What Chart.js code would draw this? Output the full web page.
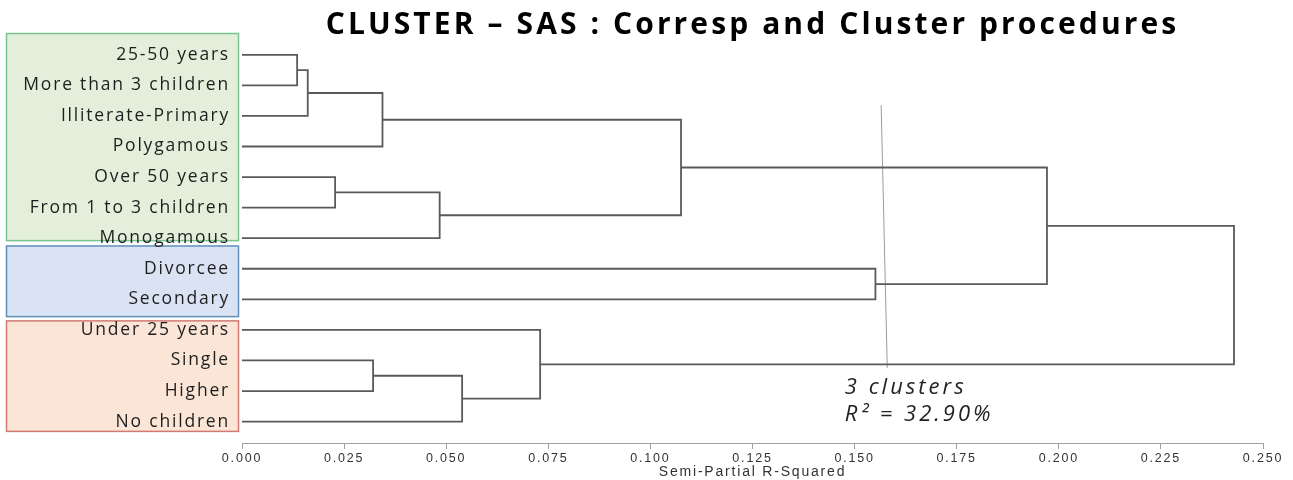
<!DOCTYPE html>
<html>
<head>
<meta charset="utf-8">
<script src="https://cdn.jsdelivr.net/npm/chart.js@4/dist/chart.umd.min.js"></script>
<style>
  html, body { margin: 0; padding: 0; background: #ffffff; }
  #wrap { width: 1293px; height: 480px; }
</style>
</head>
<body>
<div id="wrap"><canvas id="c" width="1293" height="480"></canvas></div>
<script>
// ---- data ----
const leaves = [
  '25-50 years', 'More than 3 children', 'Illiterate-Primary', 'Polygamous',
  'Over 50 years', 'From 1 to 3 children', 'Monogamous',
  'Divorcee', 'Secondary',
  'Under 25 years', 'Single', 'Higher', 'No children'
];
// merges (node ids: leaves 0..12, merge k creates node 13+k)
const mergeLeft   = [0, 13, 4, 10, 14, 15, 16, 9, 17, 7, 21, 23];
const mergeRight  = [1, 2, 5, 11, 3, 6, 12, 19, 18, 8, 22, 20];
const mergeHeight = [0.0135, 0.0161, 0.0228, 0.0321, 0.0344, 0.0484, 0.0539, 0.0730, 0.1075, 0.1551, 0.1971, 0.2429];
const xTickValues = [0, 0.025, 0.05, 0.075, 0.1, 0.125, 0.15, 0.175, 0.2, 0.225, 0.25];
const cutLineX = [0.1565, 0.1580];
const cutLineY = [1.65, 10.24];
const clusterGroups = ['green', 'blue', 'orange'];
const annotationLines = ['3 clusters', 'R\u00B2 = 32.90%'];

// ---- build dendrogram segments ----
const nodeY = leaves.map((_, i) => i);
const nodeH = leaves.map(() => 0);
const datasets = [];
mergeHeight.forEach((h, k) => {
  const a = mergeLeft[k], b = mergeRight[k];
  datasets.push({
    data: [
      { x: nodeH[a], y: nodeY[a] },
      { x: h, y: nodeY[a] },
      { x: h, y: nodeY[b] },
      { x: nodeH[b], y: nodeY[b] }
    ],
    showLine: true, pointRadius: 0, borderColor: '#5a5a5a', borderWidth: 1.8,
    tension: 0, fill: false
  });
  nodeY.push((nodeY[a] + nodeY[b]) / 2);
  nodeH.push(h);
});
datasets.push({
  data: cutLineX.map((x, i) => ({ x: x, y: cutLineY[i] })),
  showLine: true, pointRadius: 0, borderColor: '#9c9c9c', borderWidth: 1, fill: false
});

const boxStyles = {
  green:  { fill: '#e3efda', stroke: '#79c48f', span: [-0.696, 6.08] },
  blue:   { fill: '#dae3f3', stroke: '#5f8fb8', span: [6.255, 8.565] },
  orange: { fill: '#fbe5d6', stroke: '#d27a72', span: [8.705, 12.32] }
};

const decor = {
  id: 'decor',
  beforeDraw(chart) {
    const ctx = chart.ctx, y = chart.scales.y;
    ctx.save();
    ctx.fillStyle = '#ffffff';
    ctx.fillRect(0, 0, chart.width, chart.height);
    clusterGroups.forEach((g) => {
      const s = boxStyles[g];
      const top = y.getPixelForValue(s.span[0]);
      const bot = y.getPixelForValue(s.span[1]);
      const left = 6.5, right = chart.chartArea.left - 3.5;
      ctx.fillStyle = s.fill;
      ctx.fillRect(left, top, right - left, bot - top);
      ctx.strokeStyle = s.stroke;
      ctx.lineWidth = 1.5;
      ctx.strokeRect(left, top, right - left, bot - top);
    });
    ctx.restore();
    ctx.letterSpacing = '3.1px';
  },
  afterDatasetsDraw(chart) {
    chart.ctx.letterSpacing = '1.8px';
  },
  afterDraw(chart) {
    const ctx = chart.ctx, x = chart.scales.x, y = chart.scales.y;
    ctx.save();
    ctx.letterSpacing = '3px';
    ctx.font = 'italic 22px "Open Sans"';
    ctx.fillStyle = '#222222';
    ctx.textAlign = 'left';
    ctx.textBaseline = 'alphabetic';
    const px = x.getPixelForValue(0.1476);
    ctx.fillText(annotationLines[0], px, y.getPixelForValue(11.10));
    ctx.fillText(annotationLines[1], px, y.getPixelForValue(11.97));
    ctx.restore();
    ctx.letterSpacing = '0px';
  }
};

new Chart(document.getElementById('c'), {
  type: 'scatter',
  data: { datasets: datasets },
  options: {
    responsive: false,
    animation: false,
    devicePixelRatio: 1,
    layout: { padding: { left: 0, right: 30, top: 0, bottom: 0 } },
    plugins: {
      legend: { display: false },
      tooltip: { enabled: false },
      title: {
        display: true,
        fullSize: false,
        text: 'CLUSTER \u2013 SAS : Corresp and Cluster procedures',
        color: '#000000',
        font: { family: '"Open Sans"', weight: 'bold', size: 30, lineHeight: 1.2 },
        padding: { top: 7, bottom: 1 }
      }
    },
    scales: {
      x: {
        type: 'linear',
        min: 0, max: 0.25,
        afterBuildTicks(scale) { scale.ticks = xTickValues.map(v => ({ value: v })); },
        afterFit(scale) { scale.height = 37; },
        ticks: {
          z: 1,
          autoSkip: false, maxRotation: 0,
          padding: 2,
          color: '#333333',
          font: { family: '"Liberation Sans"', size: 12.5 },
          callback: (v) => Number(v).toFixed(3)
        },
        grid: { z: 1, drawOnChartArea: false, drawTicks: true, tickLength: 6, color: '#a0a0a0', lineWidth: 1 },
        border: { z: 1, display: true, color: '#a0a0a0', width: 1 },
        title: {
          display: true, text: 'Semi-Partial R-Squared', color: '#333333',
          font: { family: '"Liberation Sans"', size: 14, lineHeight: 1.2 },
          padding: { top: 1, bottom: -1 }
        }
      },
      y: {
        type: 'linear',
        reverse: true,
        min: -0.353, max: 12.7,
        afterBuildTicks(scale) { scale.ticks = leaves.map((_, i) => ({ value: i })); },
        afterFit(scale) { scale.width = 242; },
        ticks: {
          z: 1,
          padding: 12,
          color: '#1e1e1e',
          font: { family: '"Open Sans"', size: 17.5 },
          callback: (v) => leaves[v]
        },
        grid: { display: false, drawTicks: false },
        border: { display: false }
      }
    }
  },
  plugins: [decor]
});
</script>
</body>
</html>
